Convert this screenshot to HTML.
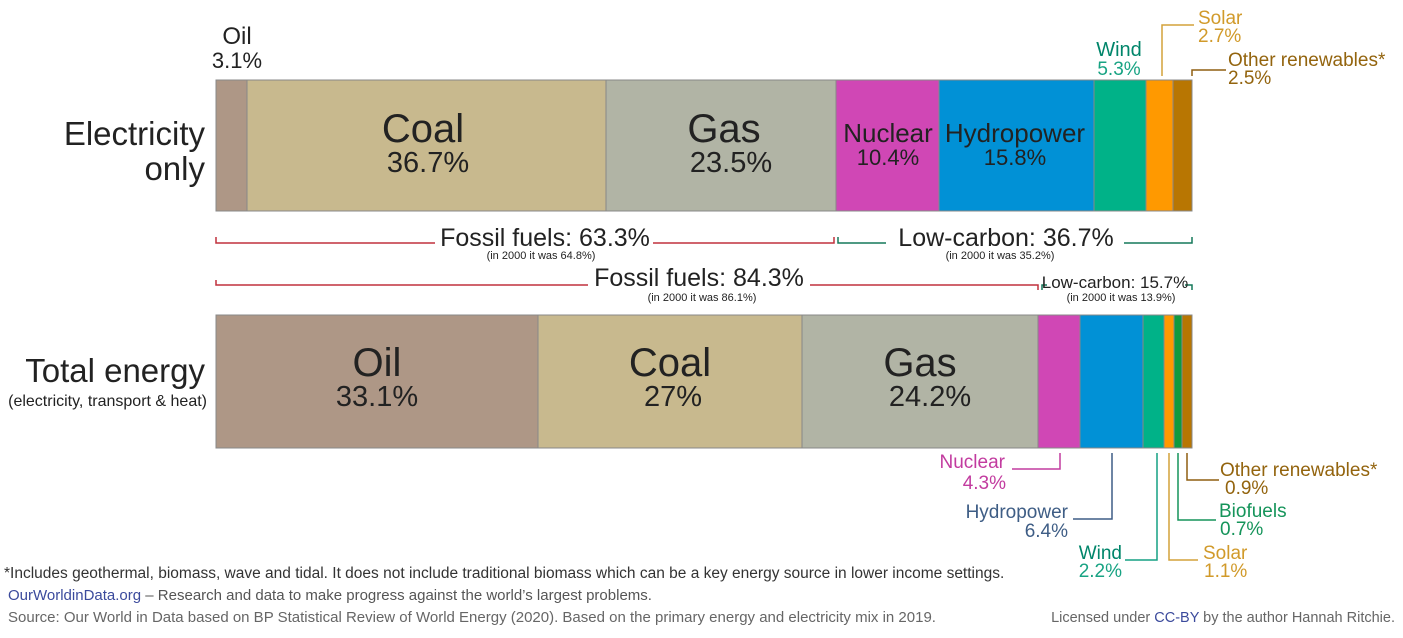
<!DOCTYPE html>
<html><head><meta charset="utf-8"><style>
html,body{margin:0;padding:0;background:#fff;}
svg text{font-family:"Liberation Sans",sans-serif;}
</style></head><body>
<svg width="1403" height="633" viewBox="0 0 1403 633" xmlns="http://www.w3.org/2000/svg">
<g stroke="#888" stroke-width="1">
<rect x="216" y="80" width="31" height="131" fill="#ae9786"/>
<rect x="247" y="80" width="359" height="131" fill="#c8b98e"/>
<rect x="606" y="80" width="230" height="131" fill="#b1b4a5"/>
<rect x="836" y="80" width="103" height="131" fill="#d047b5"/>
<rect x="939" y="80" width="155" height="131" fill="#0191d6"/>
<rect x="1094" y="80" width="52" height="131" fill="#00b288"/>
<rect x="1146" y="80" width="27" height="131" fill="#ff9900"/>
<rect x="1173" y="80" width="19" height="131" fill="#b87602"/>
<rect x="216" y="315" width="322" height="133" fill="#ae9786"/>
<rect x="538" y="315" width="264" height="133" fill="#c8b98e"/>
<rect x="802" y="315" width="236" height="133" fill="#b1b4a5"/>
<rect x="1038" y="315" width="42" height="133" fill="#d047b5"/>
<rect x="1080" y="315" width="63" height="133" fill="#0191d6"/>
<rect x="1143" y="315" width="21" height="133" fill="#00b288"/>
<rect x="1164" y="315" width="10" height="133" fill="#ff9900"/>
<rect x="1174" y="315" width="8" height="133" fill="#0f9a3f"/>
<rect x="1182" y="315" width="10" height="133" fill="#b87602"/>
</g>
<g fill="#222" text-anchor="middle">
<text x="423" y="142" font-size="40">Coal</text><text x="428" y="172" font-size="29">36.7%</text>
<text x="724" y="142" font-size="40">Gas</text><text x="731" y="172" font-size="29">23.5%</text>
<text x="888" y="142" font-size="26">Nuclear</text><text x="888" y="165" font-size="22">10.4%</text>
<text x="1015" y="142" font-size="26">Hydropower</text><text x="1015" y="165" font-size="22">15.8%</text>
<text x="377" y="376" font-size="40">Oil</text><text x="377" y="406" font-size="29">33.1%</text>
<text x="670" y="376" font-size="40">Coal</text><text x="673" y="406" font-size="29">27%</text>
<text x="920" y="376" font-size="40">Gas</text><text x="930" y="406" font-size="29">24.2%</text>
<text x="237" y="44" font-size="24">Oil</text><text x="237" y="68" font-size="22">3.1%</text>
</g>
<g fill="#222" text-anchor="end">
<text x="205" y="145" font-size="33">Electricity</text><text x="205" y="180" font-size="33">only</text>
<text x="205" y="382" font-size="33">Total energy</text><text x="207" y="406" font-size="16">(electricity, transport &amp; heat)</text>
</g>
<!-- brackets -->
<g fill="none" stroke-width="1.5">
<path d="M216,237 V243 H435 M653,243 H834 V237" stroke="#c0313d"/>
<path d="M838,237 V243 H886 M1124,243 H1192 V237" stroke="#15785a"/>
<path d="M216,280 V285 H588 M810,285 H1038 V290" stroke="#c0313d"/>
<path d="M1042,290 V285 H1047 M1185,285 H1192 V290" stroke="#15785a"/>
</g>
<g text-anchor="middle" fill="#222">
<text x="545" y="246" font-size="25">Fossil fuels: 63.3%</text>
<text x="541" y="259" font-size="11">(in 2000 it was 64.8%)</text>
<text x="1006" y="246" font-size="25">Low-carbon: 36.7%</text>
<text x="1000" y="259" font-size="11">(in 2000 it was 35.2%)</text>
<text x="699" y="286" font-size="25">Fossil fuels: 84.3%</text>
<text x="702" y="301" font-size="11">(in 2000 it was 86.1%)</text>
<text x="1115" y="288" font-size="17">Low-carbon: 15.7%</text>
<text x="1121" y="301" font-size="11">(in 2000 it was 13.9%)</text>
</g>
<!-- top annotations -->
<g font-size="19">
<text x="1119" y="56" fill="#00856a" text-anchor="middle" font-size="20">Wind</text><text x="1119" y="75" fill="#18a383" text-anchor="middle">5.3%</text>
<path d="M1162,76 V25 H1194" fill="none" stroke="#d4a23a" stroke-width="1.5"/>
<text x="1198" y="24" fill="#d19a2a">Solar</text><text x="1198" y="42" fill="#d19a2a">2.7%</text>
<path d="M1192,76 V70 H1226" fill="none" stroke="#8f5e10" stroke-width="1.5"/>
<text x="1228" y="66" fill="#93640e">Other renewables*</text><text x="1228" y="84" fill="#93640e">2.5%</text>
</g>
<!-- bottom annotations -->
<g font-size="19" fill="none" stroke-width="1.5">
<path d="M1012,469 H1060 V453" stroke="#c23b9f"/>
<path d="M1073,519 H1112 V453" stroke="#3e5d85"/>
<path d="M1125,560 H1157 V453" stroke="#15a084"/>
<path d="M1198,560 H1169 V453" stroke="#d4a23a"/>
<path d="M1178,453 V520 H1216" stroke="#15945a"/>
<path d="M1187,453 V480 H1219" stroke="#8f5e10"/>
</g>
<g font-size="19">
<text x="1005" y="468" fill="#c23b9f" text-anchor="end">Nuclear</text><text x="1006" y="489" fill="#c23b9f" text-anchor="end">4.3%</text>
<text x="1068" y="518" fill="#3e5d85" text-anchor="end">Hydropower</text><text x="1068" y="537" fill="#3e5d85" text-anchor="end">6.4%</text>
<text x="1122" y="559" fill="#00856a" text-anchor="end">Wind</text><text x="1122" y="577" fill="#18a383" text-anchor="end">2.2%</text>
<text x="1203" y="559" fill="#d19a2a">Solar</text><text x="1204" y="577" fill="#d19a2a">1.1%</text>
<text x="1219" y="517" fill="#15945a">Biofuels</text><text x="1220" y="535" fill="#15945a">0.7%</text>
<text x="1220" y="476" fill="#93640e">Other renewables*</text><text x="1225" y="494" fill="#93640e">0.9%</text>
</g>
<!-- footer -->
<text x="4" y="578" font-size="15.5" fill="#333">*Includes geothermal, biomass, wave and tidal. It does not include traditional biomass which can be a key energy source in lower income settings.</text>
<text x="8" y="600" font-size="15" fill="#555"><tspan fill="#3b4a9c">OurWorldinData.org</tspan> – Research and data to make progress against the world’s largest problems.</text>
<text x="8" y="622" font-size="15" fill="#666">Source: Our World in Data based on BP Statistical Review of World Energy (2020). Based on the primary energy and electricity mix in 2019.</text>
<text x="1395" y="622" font-size="14.5" fill="#666" text-anchor="end">Licensed under <tspan fill="#3b4a9c">CC-BY</tspan> by the author Hannah Ritchie.</text>
</svg>
</body></html>
